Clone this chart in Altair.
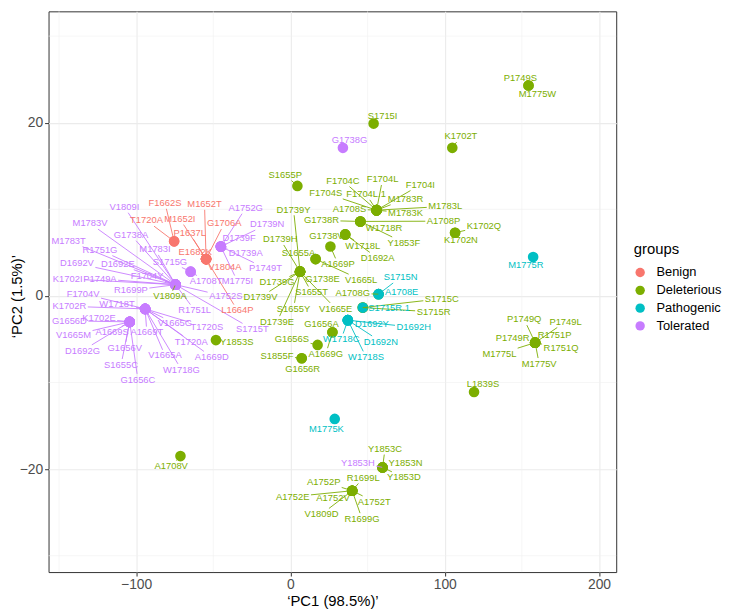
import math
import altair as alt
import pandas as pd

F = "Liberation Sans, Arial, Helvetica, sans-serif"

groups = ["Benign", "Deleterious", "Pathogenic", "Tolerated"]
palette = ["#F8766D", "#7CAE00", "#00BFC4", "#C77CFF"]
code = {"B": "Benign", "D": "Deleterious", "P": "Pathogenic", "T": "Tolerated"}

# --- variants (hidden, overplotted ones first) ---
names = [
    "Y1853H", "V1809A", "A1708G", "S1715C", "S1715R",
    # tolerated cluster 1
    "V1809I", "M1783V", "G1738A", "M1783T", "R1751G", "M1783I", "D1692V", "D1692E",
    "F1704Y", "K1702I", "P1749A", "R1699P", "S1715T", "R1751L", "A1752S",
    # tolerated cluster 2
    "F1704V", "K1702R", "W1718T", "A1669T", "V1665A", "W1718G", "A1669D", "T1720A",
    "V1665G", "T1720S",
    # tolerated cluster 3
    "G1656D", "K1702E", "V1665M", "A1669S", "D1692G", "G1656V", "S1655C", "G1656C",
    # tolerated others
    "S1715G", "A1708T", "M1775I", "A1752G", "D1739N", "D1739F", "D1739A", "P1749T",
    "G1738G",
    # benign
    "F1662S", "T1720A", "M1652T", "M1652I", "G1706A", "P1637L", "E1682K", "V1804A",
    "L1664P",
    # deleterious
    "Y1853S", "A1708V", "S1715I", "K1702T", "P1749S", "M1775W", "S1655P",
    "F1704C", "F1704L", "F1704I", "F1704S", "F1704L.1", "M1783R", "M1783L", "M1783K",
    "A1708S",
    "G1738R", "A1708P", "W1718R", "Y1853F",
    "K1702Q", "K1702N",
    "G1738V", "W1718L", "D1692A",
    "A1669P", "S1655A", "V1665L",
    "D1739Y", "D1739H", "G1738E", "D1739G", "S1655T", "D1739V", "S1655Y", "V1665E",
    "D1739E",
    "G1656A", "A1669G", "G1656S", "S1855F", "G1656R",
    "P1749Q", "P1749L", "P1749R", "R1751P", "R1751Q", "M1775L", "M1775V",
    "L1839S",
    "Y1853C", "Y1853N", "Y1853D",
    "R1699L", "A1752P", "A1752E", "A1752V", "A1752T", "V1809D", "R1699G",
    # pathogenic
    "S1715N", "A1708E", "S1715R.1", "D1692Y", "D1692H", "W1718C", "D1692N", "W1718S",
    "M1775K", "M1775R",
]

group_codes = (
    "TDDDD"
    + "TTTTTTTTTTTTTTT"
    + "TTTTTTTTTT"
    + "TTTTTTTT"
    + "TTTTTTTTT"
    + "BBBBBBBBB"
    + "DDDDDDD" + "DDDDDDDDD" + "DDDD" + "DD" + "DDD" + "DDD" + "DDDDDDDDD"
    + "DDDDD" + "DDDDDDD" + "D" + "DDD" + "DDDDDDD"
    + "PPPPPPPPPP"
)

pc1 = (
    [59.7, -74.5, 57.1, 46.9, 46.9]
    + [-74.5] * 15
    + [-94.2] * 10
    + [-104.2] * 8
    + [-64.7, -64.7, -45.1, -45.1, -45.1, -45.1, -45.1, -45.1, 34.0]
    + [-75.4, -75.4] + [-54.7] * 7
    + [-48.3, -71.3, 53.9, 104.9, 154.3, 154.3, 4.5]
    + [55.8] * 9
    + [45.3] * 4
    + [106.7] * 2
    + [35.5] * 3
    + [25.9, 16.3, 16.3]
    + [6.2] * 9
    + [27.2, 27.2, 17.6, 7.3, 7.3]
    + [158.6] * 7
    + [119.0]
    + [59.7] * 3
    + [40.0] * 7
    + [57.1, 57.1, 46.9, 37.2, 37.2, 37.2, 37.2, 37.2, 28.7, 157.3]
)

pc2 = (
    [-19.8, 1.3, 0.2, -1.35, -1.35]
    + [1.3] * 15
    + [-1.5] * 10
    + [-3.0] * 8
    + [2.8, 2.8, 5.7, 5.7, 5.7, 5.7, 5.7, 5.7, 17.1]
    + [6.3, 6.3] + [4.25] * 7
    + [-5.1, -18.5, 19.9, 17.1, 24.3, 24.3, 12.7]
    + [9.9] * 9
    + [8.6] * 4
    + [7.3] * 2
    + [7.1] * 3
    + [5.7, 4.25, 4.25]
    + [2.8] * 9
    + [-4.2, -4.2, -5.66, -7.2, -7.2]
    + [-5.4] * 7
    + [-11.1]
    + [-19.8] * 3
    + [-22.5] * 7
    + [0.2, 0.2, -1.35, -2.8, -2.8, -2.8, -2.8, -2.8, -14.2, 4.5]
)

# label positions (as placed by the repel layout), in data units
lab_pc1 = [
    43.7, -78.1, 40.4, 98.1, 92.8,
    -107.6, -129.9, -103.4, -143.8, -123.5, -87.8, -138.4, -111.9,
    -92.9, -144.4, -123.5, -103.4, -24.7, -62.1, -41.9,
    -134.4, -143.3, -112.4, -93.1, -81.3, -70.7, -51.0, -64.3, -74.9, -54.2,
    -143.3, -124.1, -140.6, -115.6, -134.8, -107.4, -109.8, -98.9,
    -78.1, -54.7, -34.4, -29.0, -15.1, -33.3, -29.0, -16.2, 38.3,
    -81.3, -93.3, -55.7, -71.7, -42.9, -65.3, -61.7, -42.5, -34.4,
    -34.8, -77.3, 59.7, 110.5, 149.0, 160.1, -3.4,
    34.0, 59.7, 84.2, 22.9, 49.0, 74.6, 100.3, 74.6, 38.3,
    20.1, 99.2, 60.7, 73.5,
    125.4, 110.5,
    23.3, 46.9, 56.5,
    30.8, 5.2, 45.8,
    2.0, -6.6, 20.8, -8.7, 13.7, -19.4, 2.0, 29.3, -8.7,
    20.1, 22.9, 0.9, -8.7, 7.9,
    151.5, 178.3, 144.0, 171.2, 175.4, 135.5, 161.2,
    124.8,
    61.3, 74.6, 73.5,
    47.2, 21.6, 1.5, 27.6, 54.3, 20.1, 46.4,
    71.4, 72.1, 63.9, 52.8, 79.9, 32.9, 58.6, 49.0, 23.3, 152.6,
]
lab_pc2 = [
    -19.26, -0.06, 0.32, -0.32, -1.85,
    10.26, 8.37, 7.03, 6.34, 5.31, 5.39, 3.75, 3.68,
    2.32, 1.97, 1.97, 0.63, -3.83, -1.66, -0.06,
    0.25, -1.2, -0.97, -4.2, -6.88, -8.51, -7.06, -5.28, -3.18, -3.63,
    -2.88, -2.6, -4.51, -4.2, -6.31, -5.97, -7.94, -9.66,
    3.94, 1.69, 1.69, 10.15, 8.25, 6.65, 4.94, 3.18, 17.97,
    10.72, 8.71, 10.6, 8.89, 8.37, 7.22, 5.12, 3.37, -1.66,
    -5.35, -19.67, 20.82, 18.42, 25.2, 23.3, 13.97,
    13.28, 13.46, 12.82, 11.86, 11.75, 11.18, 10.34, 9.58, 10.03,
    8.71, 8.63, 7.86, 6.15,
    8.06, 6.42,
    6.91, 5.77, 4.37,
    3.68, 5.0, 1.85,
    9.97, 6.54, 1.97, 1.58, 0.43, -0.14, -1.46, -1.46, -2.99,
    -3.26, -6.69, -5.0, -6.91, -8.43,
    -2.72, -2.99, -4.89, -4.51, -6.03, -6.69, -7.83,
    -10.15,
    -17.66, -19.26, -20.97,
    -21.0, -21.46, -23.18, -23.29, -23.75, -25.2, -25.74,
    2.15, 0.43, -1.35, -3.26, -3.63, -5.0, -5.28, -7.06, -15.37, 3.6,
]

x_ticks = [-100, 0, 100, 200]
y_ticks = [-20, 0, 20]
x_minor = [-150, -50, 50, 150]
y_minor = [-30, -10, 10, 30]

assert len(names) == len(group_codes) == len(pc1) == len(pc2) == len(lab_pc1) == len(lab_pc2)

W, H = 574, 567
XD = [-156.8, 211.15]
YD = [-31.89, 32.86]
kx = W / (XD[1] - XD[0])
ky = H / (YD[1] - YD[0])
FS = 9.5

CW = {"A": .667, "C": .722, "D": .722, "E": .667, "F": .611, "G": .778, "H": .722,
      "I": .278, "K": .667, "L": .556, "M": .833, "N": .722, "P": .667, "Q": .778,
      "R": .722, "S": .667, "T": .611, "V": .667, "W": .944, "Y": .667, ".": .278}


def text_w(s):
    return sum(CW.get(c, .556) for c in s) * FS


rows, segs = [], []
for n, g, x, y, lx, ly in zip(names, group_codes, pc1, pc2, lab_pc1, lab_pc2):
    grp = code[g]
    rows.append({"name": n, "group": grp, "pc1": x, "pc2": y, "lx": lx, "ly": ly})
    dx = (lx - x) * kx
    dy = (ly - y) * ky
    hw = text_w(n) / 2 + 1.5
    hh = FS / 2 + 1.0
    if abs(dx) <= hw and abs(dy) <= hh:
        continue
    s = min(hw / abs(dx) if dx else 1e9, hh / abs(dy) if dy else 1e9)
    seglen = (1 - s) * math.hypot(dx, dy)
    if seglen < 5:
        continue
    segs.append({"group": grp, "pc1": x, "pc2": y,
                 "x2": lx - s * (lx - x), "y2": ly - s * (ly - y)})

df = pd.DataFrame(rows)
dseg = pd.DataFrame(segs)

xs = alt.Scale(domain=XD, nice=False, zero=False)
ys = alt.Scale(domain=YD, nice=False, zero=False)
cs = alt.Scale(domain=groups, range=palette)

xt = "\u2018PC1 (98.5%)\u2019"
yt = "\u2018PC2 (1.5%)\u2019"

xaxis = alt.Axis(values=x_ticks, grid=True, gridColor="#EBEBEB", gridWidth=1.1,
                 domain=False, tickColor="#333333", tickSize=4, tickWidth=1,
                 labelColor="#4D4D4D", labelFontSize=14, labelFont=F, labelPadding=2,
                 titleFont=F, titleFontSize=15, titleColor="black",
                 titleFontWeight="normal", titleY=29, titleBaseline="middle",
                 labelFlush=False)
yaxis = alt.Axis(values=y_ticks, grid=True, gridColor="#EBEBEB", gridWidth=1.1,
                 domain=False, tickColor="#333333", tickSize=4, tickWidth=1,
                 labelColor="#4D4D4D", labelFontSize=14, labelFont=F, labelPadding=2,
                 titleFont=F, titleFontSize=15, titleColor="black",
                 titleFontWeight="normal", titleX=-32, titleY=288,
                 titleBaseline="middle", labelFlush=False)


def X(field):
    return alt.X(field, type="quantitative", scale=xs, axis=xaxis, title=xt)


def Y(field):
    return alt.Y(field, type="quantitative", scale=ys, axis=yaxis, title=yt)


minor_x = alt.Chart(pd.DataFrame({"pc1": x_minor})).mark_rule(
    color="#F0F0F0", strokeWidth=0.6).encode(x=X("pc1"))
minor_y = alt.Chart(pd.DataFrame({"pc2": y_minor})).mark_rule(
    color="#F0F0F0", strokeWidth=0.6).encode(y=Y("pc2"))

pts = alt.Chart(df).mark_circle(size=115, opacity=1).encode(
    x=X("pc1"), y=Y("pc2"),
    color=alt.Color("group:N", scale=cs, legend=alt.Legend(
        title="groups", orient="none", legendX=591.7, legendY=233.6,
        titleFontSize=15, titleFont=F, titleFontWeight="normal", titleColor="black",
        labelFontSize=13, labelFont=F, labelColor="black", symbolSize=90,
        symbolType="circle", titlePadding=9, rowPadding=4, labelOffset=10,
        padding=0, symbolStrokeWidth=0, symbolOpacity=1)),
)

seg = alt.Chart(dseg).mark_rule(strokeWidth=0.9).encode(
    x=X("pc1"), y=Y("pc2"), x2="x2:Q", y2="y2:Q",
    color=alt.Color("group:N", scale=cs, legend=None),
)

txt = alt.Chart(df).mark_text(font=F, fontSize=FS, align="center", baseline="middle").encode(
    x=X("lx"), y=Y("ly"), text="name:N",
    color=alt.Color("group:N", scale=cs, legend=None),
)

chart = alt.layer(minor_x, minor_y, pts, seg, txt).properties(
    width=W, height=H,
    autosize=alt.AutoSizeParams(type="none"),
    padding={"left": 41, "top": 0, "right": 110, "bottom": 38},
).configure_view(stroke="#333333", strokeWidth=1)

chart.save("out.html", embed_options={"renderer": "svg", "actions": False})
